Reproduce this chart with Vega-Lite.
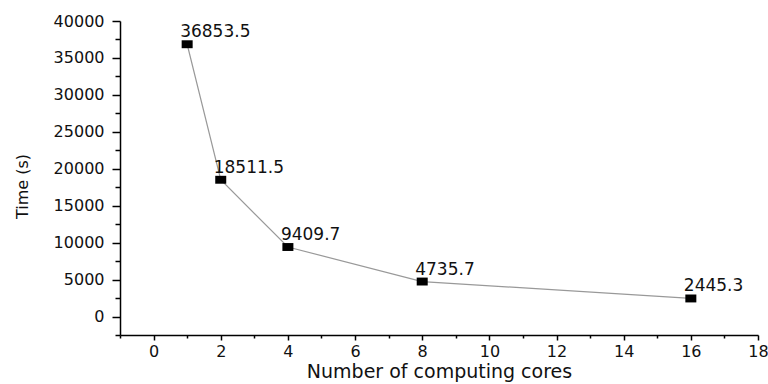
{
  "$schema": "https://vega.github.io/schema/vega-lite/v6.json",
  "width": 638,
  "height": 314,
  "autosize": "none",
  "padding": {"left": 120, "top": 21, "right": 10, "bottom": 49},
  "background": "white",
  "config": {"view": {"stroke": null}},
  "data": {"values": [
    {"cores": 1, "time": 36853.5, "label": "36853.5"},
    {"cores": 2, "time": 18511.5, "label": "18511.5"},
    {"cores": 4, "time": 9409.7, "label": "9409.7"},
    {"cores": 8, "time": 4735.7, "label": "4735.7"},
    {"cores": 16, "time": 2445.3, "label": "2445.3"}
  ]},
  "encoding": {
    "x": {
      "field": "cores", "type": "quantitative",
      "scale": {"domain": [-1, 18], "nice": false, "zero": false},
      "axis": {
        "title": "Number of computing cores",
        "values": [-1,0,1,2,3,4,5,6,7,8,9,10,11,12,13,14,15,16,17,18],
        "labelExpr": "datum.value >= 0 && datum.value % 2 === 0 ? datum.label : ''",
        "grid": false,
        "domainColor": "#000", "domainWidth": 1.5,
        "tickColor": "#000", "tickWidth": 1.5,
        "tickSize": {"condition": {"test": "datum.value % 2 === 0", "value": 5}, "value": 3},
        "labelFont": "DejaVu Sans", "labelFontSize": 16, "labelColor": "#111",
        "labelPadding": 3, "labelFlush": false, "labelOverlap": false,
        "titleFont": "DejaVu Sans", "titleFontSize": 19, "titleFontWeight": "normal", "titleColor": "#111",
        "titlePadding": 3
      }
    },
    "y": {
      "field": "time", "type": "quantitative",
      "scale": {"domain": [-2500, 40000], "nice": false, "zero": false},
      "axis": {
        "title": "Time (s)",
        "values": [-2500,0,2500,5000,7500,10000,12500,15000,17500,20000,22500,25000,27500,30000,32500,35000,37500,40000],
        "labelExpr": "datum.value >= 0 && datum.value % 5000 === 0 ? datum.label : ''",
        "format": "d",
        "grid": false,
        "domainColor": "#000", "domainWidth": 1.5,
        "tickColor": "#000", "tickWidth": 1.5,
        "tickSize": {"condition": {"test": "datum.value % 5000 === 0", "value": 8}, "value": 5},
        "labelFont": "DejaVu Sans", "labelFontSize": 16, "labelColor": "#111",
        "labelPadding": 8, "labelFlush": false, "labelOverlap": false,
        "titleFont": "DejaVu Sans", "titleFontSize": 16, "titleFontWeight": "normal", "titleColor": "#111",
        "titleAngle": -90, "titleX": -98, "titleY": 165, "titleAlign": "center", "titleBaseline": "middle"
      }
    }
  },
  "layer": [
    {"mark": {"type": "line", "color": "#999", "strokeWidth": 1.2}},
    {"mark": {"type": "point", "shape": "M-1,-0.72H1V0.72H-1Z", "size": 121, "filled": true, "color": "#000", "opacity": 1}},
    {"mark": {"type": "text", "align": "left", "baseline": "alphabetic", "dx": -7, "dy": -7, "font": "DejaVu Sans", "fontSize": 17, "color": "#111"},
     "encoding": {"text": {"field": "label"}}}
  ]
}
